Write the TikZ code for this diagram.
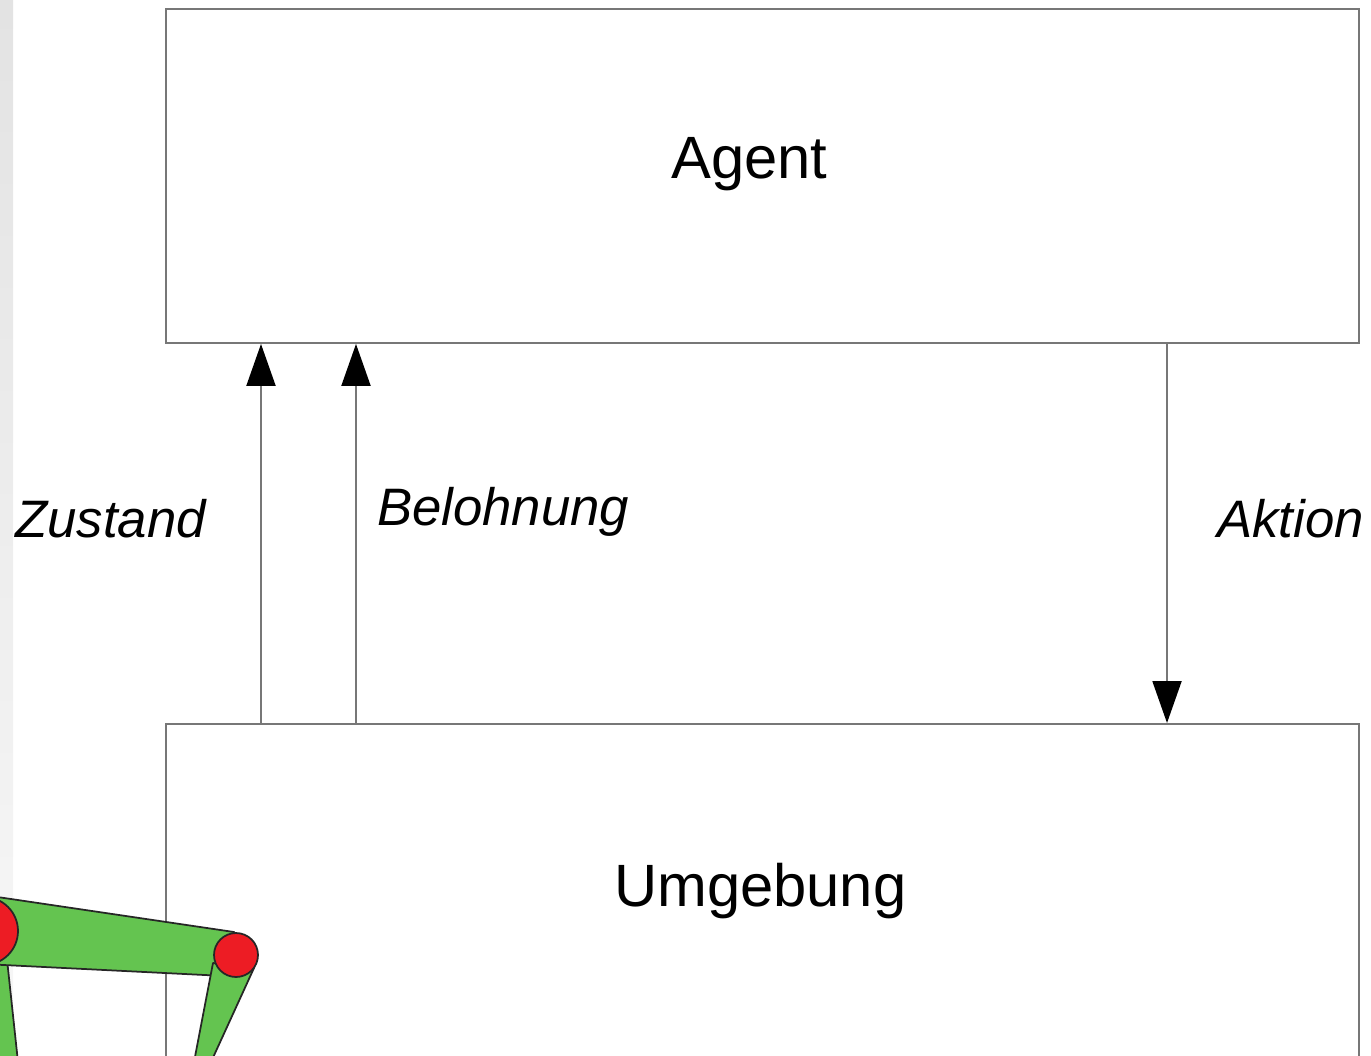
\documentclass[tikz,border=0pt]{standalone}
\usepackage{fontspec}
\setmainfont{Liberation Sans}
\usetikzlibrary{arrows.meta}

\definecolor{limbgreen}{HTML}{64C450}
\definecolor{jointred}{HTML}{ED1C24}
\definecolor{linegray}{HTML}{777777}

\begin{document}
\begin{tikzpicture}[x=0.02cm, y=-0.02cm,
    box/.style={draw=linegray, line width=0.04cm, inner sep=0pt, anchor=north west, minimum width=23.86cm},
    flow/.style={draw=linegray, line width=0.04cm, -{Triangle[color=black,length=0.84cm,width=0.58cm]}},
    title/.style={font=\fontsize{34}{40}\selectfont, anchor=base west},
    signal/.style={font=\fontsize{30}{36}\selectfont\itshape, anchor=base west},
    limb/.style={fill=limbgreen, draw=black!85, line width=0.035cm, line join=round},
    joint/.style={fill=jointred, draw=black!85, line width=0.035cm}]
    \useasboundingbox (0,0) rectangle (1371,1055);
    \clip (0,0) rectangle (1371,1055);
    % strip on the left edge
    \shade[top color=black!11, bottom color=black!3] (0,0) rectangle (13,1055);
    % agent and environment
    \path (165,8) node[box, minimum height=6.68cm] (agent) {};
    \path (165,723) node[box, minimum height=8cm] (env) {};
    \node[title] (agenttext) at (665,178) {Agent};
    \node[title] (envtext) at (608,906) {Umgebung};
    % state, reward and action
    \coordinate (zx) at (261,0);
    \coordinate (bx) at (356,0);
    \coordinate (ax) at (1167,0);
    \draw[flow] (env.north -| zx) -- (agent.south -| zx);
    \draw[flow] (env.north -| bx) -- (agent.south -| bx);
    \draw[flow] (agent.south -| ax) -- (env.north -| ax);
    \node[signal] (zlabel) at (9,537) {Zustand};
    \node[signal] (blabel) at (371,525) {Belohnung};
    \node[signal] (alabel) at (1211,537) {Aktion};
    % robot leg in the corner
    \draw[limb] (-30,950) -- (6,950) -- (18,1062) -- (-30,1062) -- cycle;
    \draw[limb] (-16,895) -- (234,932) -- (225,976) -- (-16,964) -- cycle;
    \draw[limb] (213,963) -- (254,968) -- (211,1062) -- (194,1062) -- cycle;
    \draw[joint] (-16,931) circle[radius=0.68cm];
    \draw[joint] (236,955) circle[radius=0.44cm];
\end{tikzpicture}
\end{document}
